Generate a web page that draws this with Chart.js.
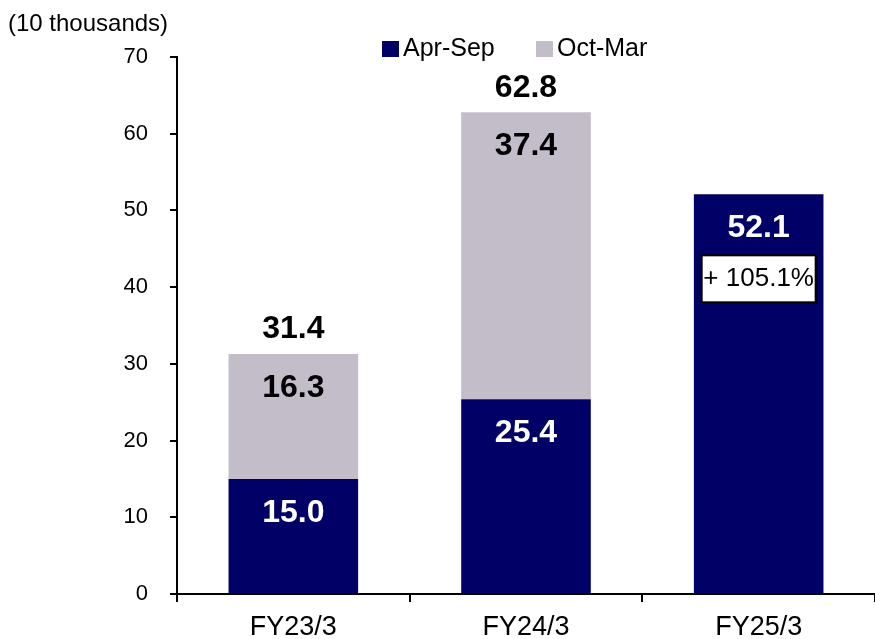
<!DOCTYPE html>
<html>
<head>
<meta charset="utf-8">
<script src="https://cdn.jsdelivr.net/npm/chart.js@4"></script>
<style>
  body { margin: 0; background: #fff; }
  canvas { display: block; }
</style>
</head>
<body>
<canvas id="grafico" width="875" height="639"></canvas>
<script>
// datos
const categorias = ['FY23/3', 'FY24/3', 'FY25/3'];
const aprSep = [15.0, 25.4, 52.1];
const octMar = [16.3, 37.4, null];
const totales = [31.4, 62.8, null];
const crecimiento = [null, null, '+ 105.1%'];
const nombresSeries = ['Apr-Sep', 'Oct-Mar'];
const colores = ['#000066', '#C3BCC9'];
const ticksY = [0, 10, 20, 30, 40, 50, 60, 70];

const fuente = '"Liberation Sans", Arial, sans-serif';

// plugin para etiquetas, leyenda y titulo
const etiquetas = {
    id: 'etiquetas',
    afterDatasetsDraw(chart) {
        const ctx = chart.ctx;
        ctx.save();
        ctx.textAlign = 'center';
        ctx.textBaseline = 'middle';
        ctx.font = 'bold 32px ' + fuente;

        // valores dentro de cada segmento
        chart.data.datasets.forEach((ds, i) => {
            const meta = chart.getDatasetMeta(i);
            meta.data.forEach((bar, j) => {
                if (ds.data[j] == null) return;
                ctx.fillStyle = i === 0 ? '#fff' : '#000';
                ctx.fillText(ds.data[j].toFixed(1), bar.x, bar.y + 34);
            });
        });

        // totales arriba
        const meta0 = chart.getDatasetMeta(0);
        const yScale = chart.scales.y;
        totales.forEach((t, j) => {
            if (t == null) return;
            ctx.fillStyle = '#000';
            ctx.fillText(t.toFixed(1), meta0.data[j].x, yScale.getPixelForValue(t) - 24);
        });

        // caja de crecimiento
        crecimiento.forEach((txt, j) => {
            if (!txt) return;
            const bar = meta0.data[j];
            const w = 114, h = 47;
            const top = bar.y + 61;
            ctx.fillStyle = '#fff';
            ctx.fillRect(bar.x - w / 2, top, w, h);
            ctx.strokeStyle = '#000';
            ctx.lineWidth = 2;
            ctx.strokeRect(bar.x - w / 2, top, w, h);
            ctx.fillStyle = '#000';
            ctx.font = '26px ' + fuente;
            ctx.fillText(txt, bar.x, top + h / 2);
        });

        // titulo del eje
        ctx.textAlign = 'left';
        ctx.font = '24px ' + fuente;
        ctx.fillStyle = '#000';
        ctx.fillText('(10 thousands)', 8, 24);

        // leyenda
        ctx.font = '25px ' + fuente;
        const posLeyenda = [382, 536];
        nombresSeries.forEach((n, i) => {
            ctx.fillStyle = colores[i];
            ctx.fillRect(posLeyenda[i], 41, 17, 16);
            ctx.fillStyle = '#000';
            ctx.fillText(n, posLeyenda[i] + 21, 49);
        });
        ctx.restore();
    }
};

new Chart(document.getElementById('grafico'), {
    type: 'bar',
    data: {
        labels: categorias,
        datasets: [
            { label: nombresSeries[0], data: aprSep, backgroundColor: colores[0] },
            { label: nombresSeries[1], data: octMar, backgroundColor: colores[1] }
        ]
    },
    options: {
        responsive: false,
        animation: false,
        layout: { padding: { top: 57, left: 0, right: 0, bottom: 0 } },
        datasets: { bar: { categoryPercentage: 1, barPercentage: 0.557, borderWidth: 0 } },
        plugins: {
            legend: { display: false },
            tooltip: { enabled: false }
        },
        scales: {
            x: {
                stacked: true,
                afterFit: s => { s.height = 45; },
                border: { color: '#000', width: 2 },
                grid: { offset: true, drawOnChartArea: false, color: '#000', lineWidth: 2, tickLength: 8 },
                ticks: { color: '#000', font: { family: fuente, size: 27 }, padding: 9, autoSkip: false, maxRotation: 0 }
            },
            y: {
                stacked: true,
                min: 0,
                max: 70,
                afterFit: s => { s.width = 177; },
                afterBuildTicks: s => { s.ticks = ticksY.map(v => ({ value: v })); },
                border: { color: '#000', width: 2 },
                grid: { drawOnChartArea: false, color: '#000', lineWidth: 2, tickLength: 7 },
                ticks: { color: '#000', font: { family: fuente, size: 22 }, padding: 22 }
            }
        }
    },
    plugins: [etiquetas]
});
</script>
</body>
</html>
